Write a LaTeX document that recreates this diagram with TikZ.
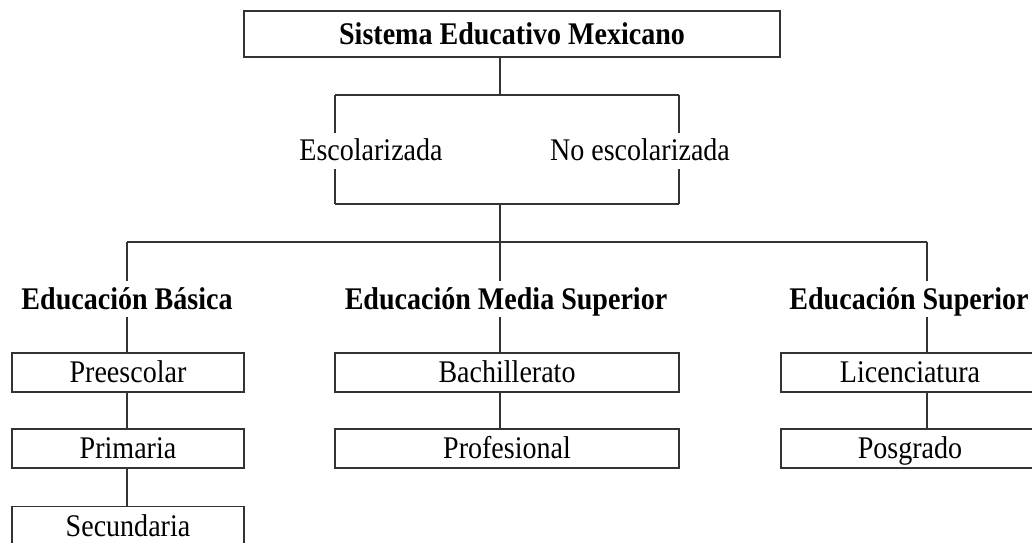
\documentclass[tikz,border=0pt]{standalone}
\usepackage{fontspec}
\setmainfont{Liberation Serif}
\newfontfamily\tallfont[FakeStretch=0.89]{Liberation Serif}
\usetikzlibrary{backgrounds}
\begin{document}
\begin{tikzpicture}[x=1pt,y=-1pt,
  conn/.style={draw=black!80, line width=1.3pt},
  txt/.style={font=\tallfont\fontsize{31.5}{36}\selectfont, text height=20pt, text depth=0pt},
  box/.style={txt, draw=black!80, line width=1.3pt, rectangle, minimum height=39pt, inner sep=0pt},
  lbl/.style={txt, fill=white, inner xsep=2pt, inner ysep=8pt, anchor=base},
  hdr/.style={lbl, font=\tallfont\fontsize{31.5}{36}\selectfont\bfseries}
]
\clip (0,0) rectangle (1032,542);

% top
\node[box, font=\tallfont\fontsize{31.5}{36}\selectfont\bfseries, minimum width=536pt, minimum height=46pt] (sem) at (512,34) {Sistema Educativo Mexicano};
\node[lbl] (esc) at (371,160.5) {Escolarizada};
\node[lbl] (noesc) at (640,160.5) {No escolarizada};

% headers
\node[hdr] (eb) at (127,309) {Educación Básica};
\node[hdr] (ems) at (506,309) {Educación Media Superior};
\node[hdr] (es) at (909,309) {Educación Superior};

% left column
\node[box, minimum width=232pt] (pre) at (128,372.5) {Preescolar};
\node[box, minimum width=232pt] (pri) at (128,448.5) {Primaria};
\node[box, minimum width=232pt] (sec) at (128,526) {Secundaria};
% middle column
\node[box, minimum width=344pt] (bach) at (507,372.5) {Bachillerato};
\node[box, minimum width=344pt] (prof) at (507,448.5) {Profesional};
% right column
\node[box, minimum width=258pt] (lic) at (910,372.5) {Licenciatura};
\node[box, minimum width=258pt] (pos) at (910,448.5) {Posgrado};

\coordinate (a) at (500,95);
\coordinate (bl) at (335,95);
\coordinate (br) at (679,95);
\coordinate (cl) at (335,204);
\coordinate (cr) at (679,204);
\coordinate (c) at (500,204);
\coordinate (d) at (500,242);
\coordinate (dl) at (127,242);
\coordinate (dr) at (927,242);

\begin{pgfonlayer}{background}
\fill[white] (0,0) rectangle (1032,542);
\draw[conn] (sem.south -| a) -- (a);
\draw[conn] (bl) -- (br);
\draw[conn] (bl) -- (cl);
\draw[conn] (br) -- (cr);
\draw[conn] (cl) -- (cr);
\draw[conn] (c) -- (d);
\draw[conn] (dl) -- (dr);
\draw[conn] (dl) -- (pre.north -| dl);
\draw[conn] (pre.south -| dl) -- (pri.north -| dl);
\draw[conn] (pri.south -| dl) -- (sec.north -| dl);
\draw[conn] (d) -- (bach.north -| d);
\draw[conn] (bach.south -| d) -- (prof.north -| d);
\draw[conn] (dr) -- (lic.north -| dr);
\draw[conn] (lic.south -| dr) -- (pos.north -| dr);
\end{pgfonlayer}
\end{tikzpicture}
\end{document}
